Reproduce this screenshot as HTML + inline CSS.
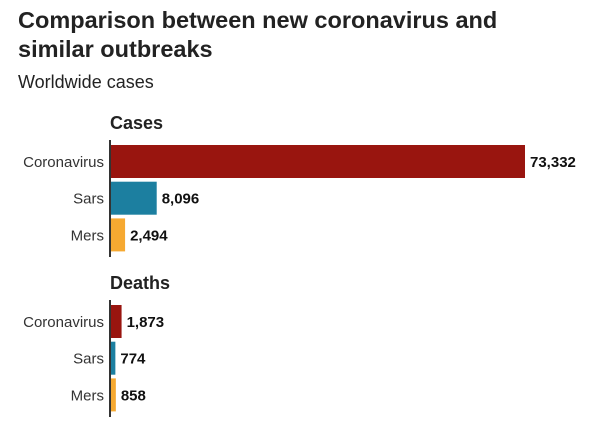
<!DOCTYPE html>
<html><head><meta charset="utf-8"><style>
body{margin:0;background:#fff;width:600px;height:433px;overflow:hidden;font-family:"Liberation Sans",Arial,sans-serif;color:#222}
</style></head><body>
<div style="position:absolute;left:18px;top:6px;font-size:23.5px;font-weight:bold;line-height:29px;color:#222;">Comparison between new coronavirus and<br>similar outbreaks</div>
<div style="position:absolute;left:18px;top:72px;font-size:18px;color:#222;">Worldwide cases</div>
<svg id="chart" width="600" height="433" style="position:absolute;left:0;top:0"></svg>
<script>
const categories=["Coronavirus","Sars","Mers"];
const cases=[73332,8096,2494];
const deaths=[1873,774,858];
const casesLabels=["73,332","8,096","2,494"];
const deathsLabels=["1,873","774","858"];
const colors=["#99150f","#1c7fa0","#f6a931"];
const svg=document.getElementById('chart');
const NS='http://www.w3.org/2000/svg';
const x0=111, maxV=73332, maxW=414;
function x(v){return x0+v/maxV*maxW;}
function mk(t,a){const e=document.createElementNS(NS,t);for(const k in a)e.setAttribute(k,a[k]);svg.appendChild(e);return e;}
function panel(title,vals,labels,top,name){
  const tt=mk('text',{x:110,y:top-11,'font-size':18,'font-weight':'bold',fill:'#222'});tt.textContent=title;
  
  
  const ax=mk('line',{x1:110,x2:110,y1:top,y2:top+117,stroke:'#333','stroke-width':2});
  
  
  vals.forEach((v,i)=>{
    const y=top+5+i*36.7;
    const r=mk('rect',{x:x0,y:y,width:Math.max(1,x(v)-x0),height:33,fill:colors[i]});
    
    
    const c=mk('text',{x:104,y:y+22,'font-size':15,'text-anchor':'end',fill:'#333'});c.textContent=categories[i];
    
    
    const l=mk('text',{x:x(v)+5,y:y+22,'font-size':15,'font-weight':'bold',fill:'#111'});l.textContent=labels[i];
    
    
  });
}
panel('Cases',cases,casesLabels,140,'cases');
panel('Deaths',deaths,deathsLabels,300,'deaths');
</script>
</body></html>
